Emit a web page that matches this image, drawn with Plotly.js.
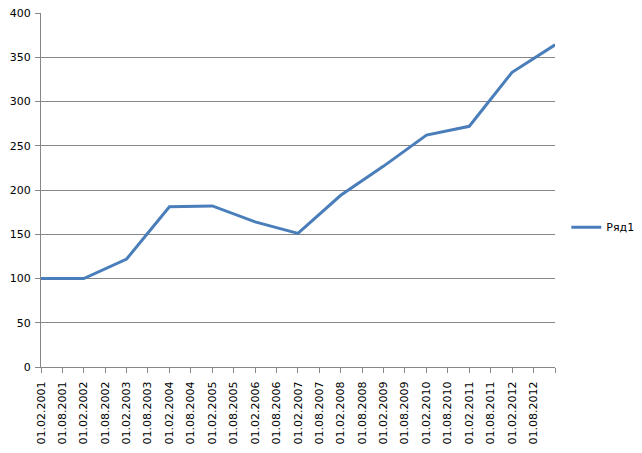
<!DOCTYPE html>
<html>
<head>
<meta charset="utf-8">
<script src="https://cdn.plot.ly/plotly-3.0.1.min.js"></script>
<style>html,body{margin:0;padding:0;background:#fff;}#chart{width:642px;height:453px;}</style>
</head>
<body>
<div id="chart"></div>
<script>
var dates = ["2001-02-01","2002-02-01","2003-02-01","2004-02-01","2005-02-01","2006-02-01","2007-02-01","2008-02-01","2009-02-01","2010-02-01","2011-02-01","2012-02-01","2013-02-01"];
var values = [100, 100, 122, 181, 182, 164, 151, 194, 227, 262, 272, 333, 364];
var seriesName = "Ряд1";
var tickDates = ["2001-02-01","2001-08-01","2002-02-01","2002-08-01","2003-02-01","2003-08-01","2004-02-01","2004-08-01","2005-02-01","2005-08-01","2006-02-01","2006-08-01","2007-02-01","2007-08-01","2008-02-01","2008-08-01","2009-02-01","2009-08-01","2010-02-01","2010-08-01","2011-02-01","2011-08-01","2012-02-01","2012-08-01","2013-02-01"];
var tickLabels = ["01.02.2001","01.08.2001","01.02.2002","01.08.2002","01.02.2003","01.08.2003","01.02.2004","01.08.2004","01.02.2005","01.08.2005","01.02.2006","01.08.2006","01.02.2007","01.08.2007","01.02.2008","01.08.2008","01.02.2009","01.08.2009","01.02.2010","01.08.2010","01.02.2011","01.08.2011","01.02.2012","01.08.2012",""];

var trace = {
  x: dates, y: values, type: "scatter", mode: "lines", name: seriesName,
  line: {color: "#4a7ebb", width: 3}
};
var layout = {
  width: 642, height: 453,
  margin: {l: 41, r: 87, t: 13, b: 86, autoexpand: false},
  paper_bgcolor: "#fff", plot_bgcolor: "#fff",
  font: {family: "DejaVu Sans", size: 11, color: "#000"},
  showlegend: true,
  legend: {x: 1.022, xanchor: "left", y: 0.395, yanchor: "middle", font: {size: 11}, bgcolor: "rgba(0,0,0,0)"},
  xaxis: {
    type: "date", range: ["2001-02-01", "2013-02-01"],
    tickmode: "array", tickvals: tickDates, ticktext: tickLabels,
    tickangle: -90, showgrid: false, showline: true, linecolor: "#868686", linewidth: 1,
    ticks: "outside", ticklen: 5, tickcolor: "#868686", zeroline: false, automargin: false,
    ticklabelstandoff: 4
  },
  yaxis: {
    range: [0, 400], dtick: 50, showgrid: true, gridcolor: "#868686", gridwidth: 1,
    showline: true, linecolor: "#868686", linewidth: 1, ticks: "outside", ticklen: 5,
    tickcolor: "#868686", zeroline: false, ticklabelstandoff: 2, automargin: false
  }
};
Plotly.newPlot("chart", [trace], layout, {displayModeBar: false, staticPlot: true});
</script>
</body>
</html>
